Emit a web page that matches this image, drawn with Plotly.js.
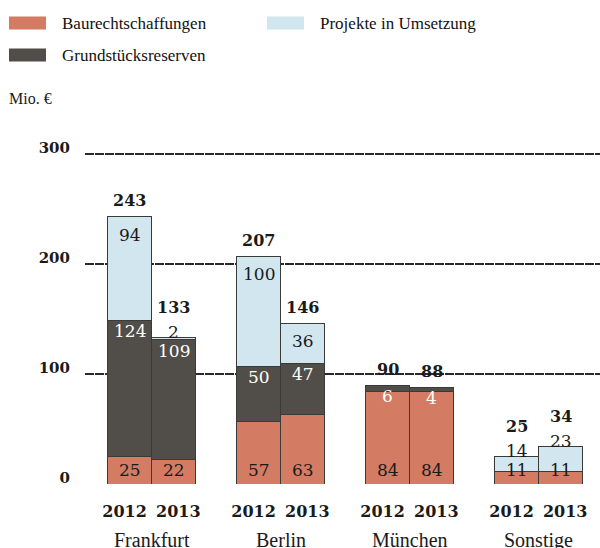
<!DOCTYPE html>
<html>
<head>
<meta charset="utf-8">
<script src="https://cdn.plot.ly/plotly-3.0.1.min.js"></script>
<style>html,body{margin:0;padding:0;background:#fff;}#chart{width:600px;height:548px;}</style>
</head>
<body>
<div id="chart"></div>
<script>
// ---- data ----
const cities = ['Frankfurt', 'Berlin', 'München', 'Sonstige'];
const years = ['2012', '2013'];
const seriesNames = ['Baurechtschaffungen', 'Grundstücksreserven', 'Projekte in Umsetzung'];
const baurecht = [25, 22, 57, 63, 84, 84, 11, 11];
const grund = [124, 109, 50, 47, 6, 4, 0, 0];
const projekte = [94, 2, 100, 36, 0, 0, 14, 23];
const totals = [243, 133, 207, 146, 90, 88, 25, 34];
const yTicks = [0, 100, 200, 300];
const unitLabel = 'Mio. €';

// ---- style ----
const colors = ['#d47b63', '#514e49', '#d1e6ee'];
const textColors = ['#1a1a1a', '#fff', '#1a1a1a'];
const numFont = 'DejaVu Serif';
const txtFont = 'Liberation Serif';
const GROUP_STEP = 2.93;

const xs = [], xTickText = [], xTickPos = [];
cities.forEach((c, i) => years.forEach((y, j) => {
  const x = i * GROUP_STEP + j;
  xs.push(x); xTickText.push(y);
  xTickPos.push(x + (j === 0 ? -0.12 : 0.1));   // labels spread slightly apart
}));

const W = 600, H = 548, L = 85, R = 0, T = 143, B = 64;
const pw = W - L - R, ph = H - T - B;
const px = x => (x - L) / pw;
const py = y => (H - B - y) / ph;

const series = [baurecht, grund, projekte];
const traces = series.map((vals, s) => ({
  type: 'bar', x: xs, y: vals, width: 1, name: seriesNames[s],
  hoverinfo: 'skip', showlegend: false,
  marker: {color: colors[s], line: {color: '#3a3a3a', width: 1}}
}));

const annotations = [];
const segFont = c => ({family: numFont, size: 17, color: c});
// segment labels
xs.forEach((x, k) => {
  annotations.push({x: x, y: 0, xref: 'x', yref: 'y', text: String(baurecht[k]), showarrow: false,
    yanchor: 'middle', yshift: 14, font: segFont(textColors[0])});
  if (grund[k] > 0) {
    annotations.push({x: x, y: baurecht[k] + grund[k], xref: 'x', yref: 'y', text: String(grund[k]), showarrow: false,
      yanchor: 'middle', yshift: -11, font: segFont(textColors[1])});
  }
  if (projekte[k] > 0) {
    const small = projekte[k] < 25;
    annotations.push({x: x, y: totals[k], xref: 'x', yref: 'y', text: String(projekte[k]), showarrow: false,
      yanchor: 'middle', yshift: small ? 6 : -18, font: segFont(textColors[2])});
  }
});
// totals
totals.forEach((t, k) => {
  const small = projekte[k] > 0 && projekte[k] < 25;
  annotations.push({x: xs[k], y: t, xref: 'x', yref: 'y', text: '<b>' + t + '</b>', showarrow: false,
    yanchor: 'middle', yshift: small ? 30 : 16, font: {family: numFont, size: 16, color: '#1a1a1a'}});
});
// city labels
cities.forEach((c, i) => {
  annotations.push({x: i * GROUP_STEP + 0.5, y: py(540), xref: 'x', yref: 'paper', text: c, showarrow: false,
    yanchor: 'middle', font: {family: txtFont, size: 20, color: '#1a1a1a'}});
});
// unit label
annotations.push({x: px(9), y: py(99), xref: 'paper', yref: 'paper', text: unitLabel, showarrow: false,
  xanchor: 'left', yanchor: 'middle', xshift: -2, font: {family: txtFont, size: 16, color: '#1a1a1a'}});

// legend (manual)
const legendItems = [
  {name: seriesNames[0], color: colors[0], x: 9, y: 23},
  {name: seriesNames[2], color: colors[2], x: 267, y: 23},
  {name: seriesNames[1], color: colors[1], x: 9, y: 55}
];
const shapes = [];
legendItems.forEach(it => {
  shapes.push({type: 'rect', xref: 'paper', yref: 'paper', x0: px(it.x), x1: px(it.x + 37),
    y0: py(it.y - 6.5), y1: py(it.y + 6.5), fillcolor: it.color, line: {width: 0}});
  annotations.push({x: px(it.x + 53), y: py(it.y), xref: 'paper', yref: 'paper', text: it.name, showarrow: false,
    xanchor: 'left', yanchor: 'middle', xshift: -2, font: {family: txtFont, size: 17, color: '#111'}});
});

const layout = {
  width: W, height: H, margin: {l: L, r: R, t: T, b: B, pad: 0},
  paper_bgcolor: '#fff', plot_bgcolor: '#fff',
  barmode: 'stack',
  xaxis: {range: [-1.02, 10.68], tickvals: xTickPos, ticktext: xTickText, tickangle: 0, showgrid: false, zeroline: false,
    showline: false, ticks: '', ticklabelstandoff: 16,
    tickfont: {family: numFont, size: 16, color: '#1a1a1a', weight: 'bold'}},
  yaxis: {range: [0, 310], tickvals: yTicks, showgrid: true, gridcolor: '#2a2a2a', gridwidth: 2,
    griddash: '9px,1px', zeroline: false, showline: false, ticks: '', ticklabelstandoff: 14, ticklabelshift: -6,
    tickfont: {family: numFont, size: 15, color: '#1a1a1a', weight: 'bold'}},
  annotations: annotations, shapes: shapes
};

Plotly.newPlot('chart', traces, layout, {displayModeBar: false, staticPlot: true});
</script>
</body>
</html>
